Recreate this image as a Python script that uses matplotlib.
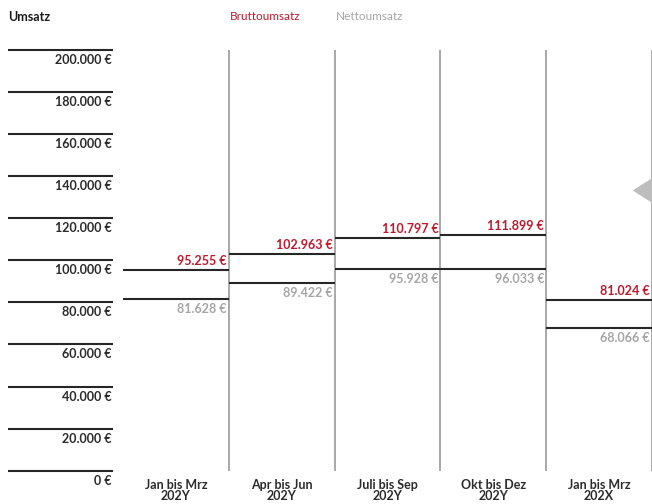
import matplotlib.pyplot as plt
from matplotlib.transforms import blended_transform_factory, offset_copy
from matplotlib.patches import Polygon

plt.rcParams['font.family'] = ['Lato', 'DejaVu Sans']

# Data
perioden = ["Jan bis Mrz\n202Y", "Apr bis Jun\n202Y", "Juli bis Sep\n202Y",
            "Okt bis Dez\n202Y", "Jan bis Mrz\n202X"]
brutto = [95255, 102963, 110797, 111899, 81024]
netto = [81628, 89422, 95928, 96033, 68066]
y_ticks = [0, 20000, 40000, 60000, 80000, 100000, 120000, 140000, 160000, 180000, 200000]

red = "#c0182c"
grey = "#a6a6a6"
dark = "#2b2b2b"

W, H = 652, 504
fig = plt.figure(figsize=(W / 100, H / 100), dpi=100)
ax = fig.add_axes([123 / W, 1 - 470.7 / H, (652 - 123) / W, (470.7 - 50) / H])
ax.set_xlim(0, len(perioden))
ax.set_ylim(0, 200000)
ax.axis("off")


def fmt(v):
    return f"{v:,.0f} €".replace(",", ".")


# column separators
for i in range(1, len(perioden) + 1):
    ax.axvline(i, color="#9a9a9a", lw=1.2, ymin=0, ymax=1)

# brutto / netto lines and labels
for i, (b, n) in enumerate(zip(brutto, netto)):
    ax.plot([i, i + 1], [b, b], color="#262626", lw=1.5, solid_capstyle="butt")
    ax.plot([i, i + 1], [n, n], color="#262626", lw=1.5, solid_capstyle="butt")
    tb = offset_copy(ax.transData, fig=fig, x=-2, y=3, units="dots")
    ax.text(i + 1, b, fmt(b), transform=tb, ha="right", va="bottom",
            color=red, fontsize=9, fontweight="bold")
    tn = offset_copy(ax.transData, fig=fig, x=-2, y=-4, units="dots")
    ax.text(i + 1, n, fmt(n), transform=tn, ha="right", va="top",
            color=grey, fontsize=9, fontweight="bold")
    tc = offset_copy(ax.transData, fig=fig, x=0, y=-8, units="dots")
    ax.text(i + 0.5, 0, perioden[i], transform=tc, ha="center", va="top",
            color=dark, fontsize=9, fontweight="bold", linespacing=0.95)

# y axis: lines above each label
bt = blended_transform_factory(fig.transFigure, ax.transData)
for t in y_ticks:
    ax.plot([8 / W, 113 / W], [t, t], color="#262626", lw=1.5,
            transform=bt, clip_on=False, solid_capstyle="butt")
    tt = offset_copy(bt, fig=fig, x=0, y=-4, units="dots")
    ax.text(112 / W, t, fmt(t), transform=tt, ha="right", va="top",
            color=dark, fontsize=9, fontweight="bold")

# header texts
fig.text(8 / W, 1 - 17 / H, "Umsatz", ha="left", va="center",
         color="#1a1a1a", fontsize=9, fontweight="bold")
fig.text(230 / W, 1 - 17 / H, "Bruttoumsatz", ha="left", va="center",
         color=red, fontsize=8.5)
fig.text(336 / W, 1 - 17 / H, "Nettoumsatz", ha="left", va="center",
         color=grey, fontsize=8.5)

# small grey marker at right edge
tri = Polygon([[634 / W, 1 - 190.5 / H], [W / W, 1 - 179 / H], [W / W, 1 - 202 / H]],
              closed=True, transform=fig.transFigure, color="#bdbdbd", clip_on=False)
fig.patches.append(tri)

plt.savefig("out.png", dpi=100)
